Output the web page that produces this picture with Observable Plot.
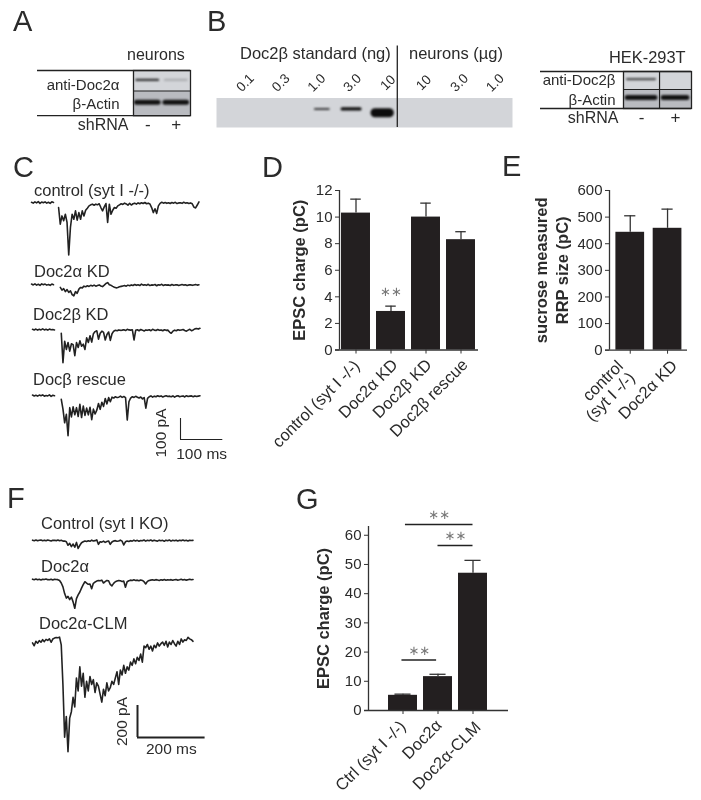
<!DOCTYPE html>
<html>
<head>
<meta charset="utf-8">
<script src="https://cdn.jsdelivr.net/npm/d3@7"></script>
<script src="https://cdn.jsdelivr.net/npm/@observablehq/plot@0.6"></script>
<style>
html,body{margin:0;padding:0;background:#fff}
#page{position:relative;width:701px;height:800px;overflow:hidden;font-family:"Liberation Sans",Arial,sans-serif;color:#2b2b2b;filter:blur(.3px)}
#page svg{position:absolute;overflow:visible;max-width:none;background:transparent}
#page span{position:absolute;white-space:nowrap;line-height:1}
.blot [stroke-linecap=round]{filter:blur(.9px)}
</style>
</head>
<body>
<div id="page"></div>
<script>
// ---------- panel D ----------
const dCats = ["control (syt I -/-)", "Doc2α KD", "Doc2β KD", "Doc2β rescue"];
const dVals = [10.3, 2.9, 10.0, 8.3];
const dTops = [11.35, 3.3, 11.05, 8.9];
const dTicks = [0, 2, 4, 6, 8, 10, 12];
// ---------- panel E ----------
const eCats = ["control\n(syt I -/-)", "Doc2α KD"];
const eVals = [443, 458];
const eTops = [505, 530];
const eTicks = [0, 100, 200, 300, 400, 500, 600];
// ---------- panel G ----------
const gCats = ["Ctrl (syt I -/-)", "Doc2α", "Doc2α-CLM"];
const gVals = [5.2, 11.6, 47];
const gTops = [5.6, 12.4, 51.4];
const gTicks = [0, 10, 20, 30, 40, 50, 60];
const gBrackets = [
  {from: 1.07, to: 3, level: 63.7},
  {from: 2, to: 3, level: 56.5},
  {from: 0.97, to: 1.96, level: 17.3}
];
// ---------- blots ----------
const aRows = ["anti-Doc2α", "β-Actin"];
const aSignal = [[0.42, 0.1], [1, 1]];
const hekRows = ["anti-Doc2β", "β-Actin"];
const hekSignal = [[0.35, 0], [1, 1]];
const shLanes = ["-", "+"];
const gelLabels = ["0.1", "0.3", "1.0", "3.0", "10", "10", "3.0", "1.0"];
const gelStandardNg = [0, 0, 1, 3, 10, 0, 0, 0];
// ---------- traces, pA every 4 ms (null = stimulus blanked) ----------
const ctrlC = [1,-3,3,-2,4,-4,2,-1,3,-3,1,-4,3,0,null,null,-24,-103,-64,-87,-56,-95,-250,-119,-56,-80,-40,-84,-48,-80,-40,-64,-37,-27,-16,-11,-8,-13,-8,-11,-6,-24,-40,-21,-5,-95,-8,-56,-37,-24,-27,-16,-11,-6,-9,-3,-7,-13,-4,-12,-6,-3,-8,-2,-6,-1,-5,0,-6,-3,-7,-24,-48,-30,-52,-16,-4,1,-3,0,-4,-1,-5,0,-3,1,-5,-2,-1,-4,1,-3,-1,-5,-2,-6,-22,-26,-12,3];
const kdAlpha = [2,-2,3,-3,1,-4,3,-1,2,-3,0,-4,2,-1,null,null,null,-14,-27,-20,-34,-24,-38,-30,-48,-54,-34,-42,-22,-14,-16,-8,-11,-6,-9,-4,-7,-3,-8,-5,-2,-7,-10,-3,5,9,-1,-4,-9,-13,-16,-14,-11,-9,-7,-5,-8,-3,-6,-2,-5,0,-4,-1,-5,2,-3,-1,-4,1,-5,-2,-3,0,-6,-1,-3,1,-5,-1,-3,-2,-5,0,-4,-2,-1,-5,-2,0,-3,-1,-5,-2,-1,-4,-2,0,-3,-1];
const kdBeta = [1,-2,2,-3,1,-2,3,-2,1,-3,2,-1,0,-2,null,null,null,-18,-158,-56,-95,-62,-103,-68,-72,-125,-62,-86,-54,-80,-70,-95,-40,-62,-30,-60,-20,-10,-6,-46,-18,-8,-14,-50,-24,-12,-52,-20,-8,-4,-6,-2,-4,-3,-1,-5,1,-2,-3,-1,-50,-4,-1,-6,0,-3,-7,-2,-4,-1,-6,1,-3,-5,0,-4,-2,-6,-1,-4,-3,-12,-18,-8,-3,-6,-1,-4,-2,0,-5,-8,-3,1,-6,-2,3,5,2,6];
const rescue = [2,-2,1,-3,2,-1,3,-3,0,-2,3,-4,1,-1,null,null,null,-18,-65,-130,-90,-192,-58,-102,-54,-92,-58,-100,-42,-105,-50,-95,-60,-92,-56,-115,-65,-88,-70,-38,-66,-32,-52,-14,-40,-10,-30,-8,-12,-6,-10,-8,-3,-9,-5,-10,-117,-30,-12,-6,-9,-4,-8,-12,-7,-16,-10,-60,-14,-6,-2,-8,-3,-6,-1,-5,-2,-7,-4,-1,-5,-3,-6,-2,-8,-3,-1,-6,-4,-2,-7,-1,-5,-3,-2,-6,-2,-5,-3,-1];
// ---------- traces, pA every 5 ms ----------
const ctrlF = [2,-1,3,-2,1,3,-1,2,-2,3,0,-3,2,1,-1,3,-2,1,-4,-3,-8,-30,-18,-38,-22,-42,-12,-50,-30,-14,-8,-3,-6,-2,-5,2,-3,-1,4,-24,-8,-10,-4,-12,-6,-3,-24,-9,-3,-1,-5,-3,2,-4,-28,-8,-3,-6,-1,-4,2,-3,1,-5,0,-2,3,-4,1,-2,3,-3,2,-1,-4,2,-2,1,-5,2,-1,3,-4,1,-2,2,-3,1,-1,3,-2,1,-3,2,0,1];
const alphaF = [2,-1,3,-2,1,-3,2,0,3,-1,-2,2,-3,1,0,-1,-6,-22,-46,-88,-116,-106,-126,-110,-140,-180,-120,-96,-78,-54,-32,-14,-22,-30,-28,-58,-24,-16,-10,-6,-8,-4,-22,-14,-6,-8,-30,-40,-24,-14,-10,-6,-8,-12,-10,-48,-14,-8,-4,-6,-2,-6,-4,-8,-3,-6,-14,-28,-12,-6,-4,-2,-5,-1,-3,-6,-2,-4,0,-5,-2,-3,-1,-5,-2,0,-4,-2,1,-3,0,-4,-1,2,-2,0];
const clmF = [-40,-58,-30,-42,-26,-36,-20,-32,-18,-24,-14,-36,-16,-10,-6,-8,-4,-52,-300,-630,-500,-720,-510,-470,-380,-440,-260,-340,-190,-310,-230,-380,-280,-340,-250,-300,-270,-350,-290,-310,-360,-410,-330,-370,-290,-340,-320,-280,-300,-260,-220,-300,-210,-240,-180,-230,-190,-210,-160,-180,-140,-170,-130,-150,-110,-160,-60,-70,-50,-80,-60,-90,-55,-70,-40,-60,-45,-35,-55,-30,-65,-35,-50,-25,-45,-60,-30,-50,-15,-35,-20,-25,-5,-15,-20,-30];

const FONT = '"Liberation Sans", Arial, sans-serif';
const INK = "#2b2b2b";
const BAR = "#231f20";
const page = document.getElementById("page");

function place(svg, left, top, cls) {
  svg.style.left = left + "px";
  svg.style.top = top + "px";
  if (cls) svg.classList.add(cls);
  page.appendChild(svg);
}
function label(str, x, y, size) {
  const s = document.createElement("span");
  s.textContent = str;
  s.style.left = x + "px";
  s.style.top = (y - size / 2) + "px";
  s.style.fontSize = size + "px";
  page.appendChild(s);
}

// Panel letters
[["A",13,21],["B",207,21],["C",13,167],["D",262,167],["E",502,166],["F",7,498],["G",296,499]]
  .forEach(([t,x,y]) => label(t, x, y, 29));

// ---- western blots ----
function blot({rows, signal, lanes, frameW, split, rowFrac, laneFrac, tail, labelDx, rowDy, shLeftDx}) {
  const bh = split.reduce((a, b) => a + b, 0);
  const edges = [0, split[0] / bh, 1];
  const bands = [];
  rows.forEach((r, ri) => lanes.forEach((l, li) => {
    if (signal[ri][li] > 0) bands.push({ri, li, s: signal[ri][li]});
  }));
  const laneEdge = laneFrac ? [0, laneFrac, 1] : [0, .5, 1];
  return Plot.plot({
    width: tail + frameW + 6, height: bh + 30,
    marginLeft: tail, marginRight: 6, marginTop: 2, marginBottom: 28,
    style: {fontFamily: FONT, color: INK, background: "transparent"},
    x: {domain: [0, 1], axis: null},
    y: {domain: [1, 0], axis: null},
    marks: [
      Plot.rect(rows, {x1: 0, x2: 1, y1: (d,i) => edges[i], y2: (d,i) => edges[i+1], fill: (d,i) => i ? "#b9bbc0" : "#d3d5d9"}),
      Plot.ruleY(bands, {
        y: d => edges[d.ri] + (edges[d.ri+1]-edges[d.ri]) * rowFrac,
        x1: d => laneEdge[d.li] + .06,
        x2: d => laneEdge[d.li+1] - .06,
        stroke: "#111", strokeLinecap: "round",
        strokeWidth: d => d.s > .9 ? 5 : 2.2,
        strokeOpacity: d => d.s > .9 ? 1 : d.s * 2
      }),
      ...(laneFrac ? [Plot.ruleX([laneFrac], {stroke: "#222", strokeWidth: 1.2})] : []),
      Plot.frame({stroke: "#222", strokeWidth: 1.3}),
      Plot.ruleY([edges[1]], {stroke: "#222", strokeWidth: 1.2}),
      Plot.ruleY([0, 1], {insetLeft: -tail, stroke: "#222", strokeWidth: 1.3}),
      ...rows.map((r, i) => Plot.text([r], {y: (edges[i]+edges[i+1])/2, frameAnchor: "left", textAnchor: "end", dx: labelDx, dy: rowDy[i], text: d => d, fontSize: 15, fill: INK})),
      Plot.text(lanes, {x: (d,i) => (laneEdge[i]+laneEdge[i+1])/2, frameAnchor: "bottom", dy: 14, text: d => d, fontSize: 17, fill: INK}),
      Plot.text(["shRNA"], {frameAnchor: "bottom-left", textAnchor: "end", dx: shLeftDx, dy: 14, text: d => d, fontSize: 16, fill: INK})
    ]
  });
}
place(blot({rows: aRows, signal: aSignal, lanes: shLanes, frameW: 57, split: [20.5, 24.7], rowFrac: .46, tail: 96, labelDx: -14, rowDy: [4, 1], shLeftDx: -5}), 37, 67.5, "blot");
label("neurons", 127, 55, 16);

place(blot({rows: hekRows, signal: hekSignal, lanes: shLanes, frameW: 68, split: [18, 19], rowFrac: .42, laneFrac: .53, tail: 83, labelDx: -8, rowDy: [0, 1], shLeftDx: -5}), 540, 69, "blot");
label("HEK-293T", 609, 57, 16.4);

// Panel B gel
const gelIdx = d3.range(gelLabels.length);
const gelDrift = {1: .18, 3: 0, 10: -.13};
const gelHalf = {1: .2, 3: .25, 10: .2};
const gelPlot = Plot.plot({
  width: 296, height: 82,
  margin: 0, marginTop: 52.5, marginBottom: 0,
  style: {fontFamily: FONT, color: INK, background: "transparent"},
  x: {domain: [0.216, 8.507], axis: null},
  y: {domain: [1, 0], axis: null},
  marks: [
    Plot.frame({fill: "#d3d5d9"}),
    Plot.ruleY(gelIdx.filter(i => gelStandardNg[i] > 0), {
      x1: i => i + 1 + gelDrift[gelStandardNg[i]] - gelHalf[gelStandardNg[i]],
      x2: i => i + 1 + gelDrift[gelStandardNg[i]] + gelHalf[gelStandardNg[i]],
      y: i => gelStandardNg[i] > 3 ? .5 : .37,
      stroke: "#0c0c0c", strokeLinecap: "round",
      strokeWidth: i => .6 + .85 * gelStandardNg[i]
    }),
    Plot.ruleX([5.28], {insetTop: -52, stroke: "#222", strokeWidth: 1.3}),
    Plot.text(gelIdx, {x: i => i + 1, frameAnchor: "top", dy: -19, dx: -3, text: i => gelLabels[i], rotate: -45, fontSize: 13.5, fill: INK})
  ]
});
place(gelPlot, 216, 45, "blot");
label("Doc2β standard (ng)", 240, 53, 16.5);
label("neurons (µg)", 409, 53, 16.5);

// ---- bar charts ----
function barChart({cats, vals, tops, ticks, yMax, xl, xr, yBottom, yTop, c1, step, hw, cap, title, titleDx, pad = 7, shifts, brackets = [], stars = []}) {
  const ml = 70, mt = 30, mb = 125, mr = 6;
  const idx = d3.range(cats.length);
  const x0 = (xl - c1) / step + 1, x1 = (xr - c1) / step + 1;
  return Plot.plot({
    width: ml + (xr - xl) + mr, height: mt + (yBottom - yTop) + mb,
    marginLeft: ml, marginRight: mr, marginTop: mt, marginBottom: mb,
    style: {fontFamily: FONT, color: INK, background: "transparent"},
    x: {domain: [x0, x1]},
    y: {domain: [0, yMax]},
    marks: [
      Plot.ruleX(idx, {x: i => i + 1, y1: i => vals[i], y2: i => tops[i], stroke: "#333", strokeWidth: 1.3}),
      Plot.ruleY(idx, {y: i => tops[i], x1: i => i + 1 - cap, x2: i => i + 1 + cap, stroke: "#333", strokeWidth: 1.3}),
      Plot.rectY(idx, {x1: i => i + 1 - hw, x2: i => i + 1 + hw, y1: 0, y2: i => vals[i], fill: BAR}),
      Plot.ruleX([x0], {y1: 0, y2: yMax, stroke: "#333", strokeWidth: 1.3}),
      Plot.ruleY([0], {insetLeft: -4, stroke: "#333", strokeWidth: 1.3}),
      Plot.axisY({ticks, tickSize: 4, tickPadding: 3, fontSize: 15, label: null, stroke: "#333", fill: INK, tickFormat: d => String(d)}),
      Plot.axisX({ticks: idx.map(i => i + 1), tickSize: 4, text: null, stroke: "#333"}),
      ...idx.map(i => Plot.axisX({ticks: [i + 1], tickSize: 0, tickPadding: pad + 4, dx: shifts[i][0], dy: shifts[i][1], tickRotate: -45, fontSize: 16.5, label: null, fill: INK, tickFormat: d => cats[d - 1]})),
      Plot.text([title], {frameAnchor: "left", textAnchor: "middle", rotate: -90, dx: titleDx, fontWeight: "bold", fontSize: 16.5, fill: INK, text: d => d, lineHeight: 1.3}),
      Plot.ruleY(brackets, {x1: "from", x2: "to", y: "level", stroke: "#222", strokeWidth: 1.6}),
      Plot.text(stars, {x: "x", y: "y", dy: -1, text: () => "∗∗", fontFamily: "DejaVu Sans", fontSize: 13, fill: "#777"})
    ]
  });
}
place(barChart({cats: dCats, vals: dVals, tops: dTops, ticks: dTicks, yMax: 12, xl: 339, xr: 478, yBottom: 349.5, yTop: 190, c1: 355.5, step: 35, hw: .414, cap: .15, title: "EPSC charge (pC)", titleDx: -41,
  shifts: [[1,2],[4,1],[3,1],[4,1]],
  stars: [{x: 2, y: 4.3}]}), 339 - 70, 190 - 30);
place(barChart({cats: eCats, vals: eVals, tops: eTops, ticks: eTicks, yMax: 600, xl: 609, xr: 687, yBottom: 350, yTop: 190.3, c1: 629.75, step: 37.3, hw: .385, cap: .15, title: "sucrose measured\nRRP size (pC)", titleDx: -59,
  shifts: [[-4,8],[7,2]]}), 609 - 70, 190.3 - 30);
place(barChart({cats: gCats, vals: gVals, tops: gTops, ticks: gTicks, yMax: 63, xl: 368, xr: 508, yBottom: 709.7, yTop: 525.7, c1: 402.5, step: 35, hw: .414, cap: .23, title: "EPSC charge (pC)", titleDx: -46, pad: 9,
  shifts: [[0,0],[1,-1],[5,1]],
  brackets: gBrackets,
  stars: gBrackets.map(b => ({x: (b.from + b.to) / 2, y: b.level + 2.8}))}), 368 - 70, 525.7 - 30);

// ---- current traces ----
function trace(vals, stepMs, pxMs, pxPa, left, baseY, above, below) {
  const W = (vals.length - 1) * stepMs * pxMs + 2;
  return place(Plot.plot({
    width: W, height: above + below, margin: 0,
    style: {background: "transparent"},
    x: {domain: [0, W / pxMs], axis: null},
    y: {domain: [-below / pxPa, above / pxPa], axis: null},
    marks: [Plot.line(vals, {x: (d,i) => i * stepMs, y: d => d, stroke: "#222", strokeWidth: 1.6})]
  }), left, baseY - above);
}
function scaleBar(ms, pA, pxMs, pxPa, x, y, sw, o) {
  const w = ms * pxMs, h = pA * pxPa;
  place(Plot.plot({
    width: w + 60, height: h + 40,
    marginLeft: 30, marginRight: 30, marginTop: 10, marginBottom: 30,
    style: {fontFamily: FONT, color: INK, background: "transparent"},
    x: {domain: [0, ms], axis: null},
    y: {domain: [0, pA], axis: null},
    marks: [
      Plot.ruleY([0], {stroke: "#222", strokeWidth: sw}),
      Plot.ruleX([0], {stroke: "#222", strokeWidth: sw}),
      Plot.text([`${ms} ms`], {x: ms / 2, y: 0, dy: o.msDy, text: d => d, fontSize: 15.5, fill: INK}),
      Plot.text([`${pA} pA`], {x: 0, y: pA / 2, dx: o.paDx, dy: o.paDy, rotate: -90, text: d => d, fontSize: 15.5, fill: INK})
    ]
  }), x - 30, y - h - 10);
}
const cMs = .423, cPa = .21, fMs = .338, fPa = .16;
trace(ctrlC, 4, cMs, cPa, 31, 201.7, 6, 56);
trace(kdAlpha, 4, cMs, cPa, 31, 283.7, 6, 20);
trace(kdBeta, 4, cMs, cPa, 32, 328.7, 6, 40);
trace(rescue, 4, cMs, cPa, 32, 394.7, 6, 44);
scaleBar(100, 100, cMs, cPa, 180, 439, 1.1, {msDy: 15, paDx: -19, paDy: 4});
label("control (syt I -/-)", 34, 190, 16.5);
label("Doc2α KD", 34, 271, 16.5);
label("Doc2β KD", 33, 314, 16.5);
label("Docβ rescue", 33, 379, 16.5);

trace(ctrlF, 5, fMs, fPa, 32, 540, 6, 14);
trace(alphaF, 5, fMs, fPa, 32, 579, 6, 34);
trace(clmF, 5, fMs, fPa, 32, 636, 6, 120);
scaleBar(200, 200, fMs, fPa, 137, 737, 2, {msDy: 12, paDx: -15, paDy: 0});
label("Control (syt I KO)", 41, 523, 16.5);
label("Doc2α", 41, 566, 16.5);
label("Doc2α-CLM", 39, 623, 16.5);
</script>
</body>
</html>
